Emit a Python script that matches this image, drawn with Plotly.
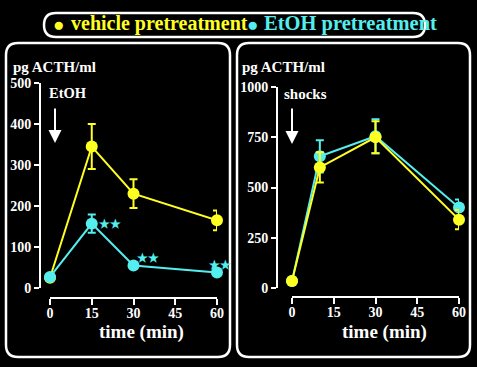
import plotly.graph_objects as go

W, H = 477, 367
YEL = "#FFFF22"
CYA = "#55EEEE"
FONT = "Liberation Serif"

# ---------------- data ----------------
left_time = [0, 15, 30, 60]
left_vehicle = [25, 345, 230, 165]
left_vehicle_err = [0, 55, 35, 24]
left_etoh = [27, 157, 55, 38]
left_etoh_err = [0, 22, 0, 0]

right_time = [0, 10, 30, 60]
right_vehicle = [35, 600, 750, 340]
right_vehicle_err = [0, 75, 80, 48]
right_etoh = [35, 655, 755, 400]
right_etoh_err = [0, 80, 85, 40]

x_ticks = [0, 15, 30, 45, 60]
left_y_ticks = [0, 100, 200, 300, 400, 500]
right_y_ticks = [0, 250, 500, 750, 1000]

series_names = ["vehicle pretreatment", "EtOH pretreatment"]


def X(px):
    return px / W


def Y(py):
    return 1 - py / H


def trace(x, y, err, color, xa, ya, name):
    return go.Scatter(
        x=x, y=y, mode="lines+markers", name=name,
        line=dict(color=color, width=2),
        marker=dict(color=color, size=12, symbol="circle"),
        error_y=dict(type="data", array=err, color=color, thickness=2, width=4, visible=True),
        xaxis=xa, yaxis=ya, cliponaxis=False, showlegend=False,
    )


fig = go.Figure()
fig.add_trace(trace(left_time, left_vehicle, left_vehicle_err, YEL, "x", "y", series_names[0]))
fig.add_trace(trace(left_time, left_etoh, left_etoh_err, CYA, "x", "y", series_names[1]))
fig.add_trace(trace(right_time, right_etoh, right_etoh_err, CYA, "x2", "y2", series_names[1]))
fig.add_trace(trace(right_time, right_vehicle, right_vehicle_err, YEL, "x2", "y2", series_names[0]))

tickfont = dict(family=FONT, size=14, color="white", weight="bold")
common_x = dict(range=[0, 60], tickvals=x_ticks, ticks="outside", ticklen=6, tickwidth=2,
                tickcolor="white", showline=True, linecolor="white", linewidth=2,
                showgrid=False, zeroline=False, tickfont=tickfont, anchor="free",
                automargin=False, fixedrange=True, ticklabelstandoff=-4)
common_y = dict(ticks="outside", ticklen=5, tickwidth=2, tickcolor="white", showline=True,
                linecolor="white", linewidth=2, showgrid=False, zeroline=False,
                tickfont=tickfont, anchor="free", automargin=False, fixedrange=True)


def rrect(x0, y0, x1, y1, r):
    s = f"M {X(x0 + r)},{Y(y0)} L {X(x1 - r)},{Y(y0)} Q {X(x1)},{Y(y0)} {X(x1)},{Y(y0 + r)} "
    s += f"L {X(x1)},{Y(y1 - r)} Q {X(x1)},{Y(y1)} {X(x1 - r)},{Y(y1)} "
    s += f"L {X(x0 + r)},{Y(y1)} Q {X(x0)},{Y(y1)} {X(x0)},{Y(y1 - r)} "
    s += f"L {X(x0)},{Y(y0 + r)} Q {X(x0)},{Y(y0)} {X(x0 + r)},{Y(y0)} Z"
    return dict(type="path", path=s, xref="paper", yref="paper",
                line=dict(color="white", width=2.5), layer="below")


shapes = [
    rrect(6, 43, 230, 357, 12),
    rrect(237, 43, 470, 357, 12),
    rrect(44, 13, 425, 37, 12),
]

ann = []


def txt(px, py, text, size=13, color="white", xanchor="left", bold=True):
    ann.append(dict(x=X(px), y=Y(py), xref="paper", yref="paper", text=text, showarrow=False,
                    xanchor=xanchor, yanchor="middle",
                    font=dict(family=FONT, size=size, color=color, weight="bold" if bold else "normal")))


def arrow(px, py0, py1):
    ann.append(dict(x=X(px), y=Y(py1), xref="paper", yref="paper", text="", showarrow=True,
                    ax=0, ay=-(py1 - py0), arrowhead=2, arrowsize=1.3, arrowwidth=2,
                    arrowcolor="white"))


# legend
ann.append(dict(x=X(58), y=Y(24), xref="paper", yref="paper", text="●", showarrow=False,
                font=dict(size=19, color=YEL), xanchor="center", yanchor="middle"))
txt(69, 24, series_names[0], size=20, color=YEL)
ann.append(dict(x=X(252), y=Y(24), xref="paper", yref="paper", text="●", showarrow=False,
                font=dict(size=19, color=CYA), xanchor="center", yanchor="middle"))
txt(262, 24, series_names[1], size=20.5, color=CYA)

# left panel texts
txt(11, 67, "pg ACTH/ml", size=15)
txt(47, 93, "EtOH", size=14.5)
arrow(55, 107, 143)
txt(141, 332, "time (min)", size=19, xanchor="center")
txt(97, 224, "★★", size=12, color=CYA)
txt(135, 258, "★★", size=12, color=CYA)
txt(207, 265, "★★", size=12, color=CYA)

# right panel texts
txt(240, 67, "pg ACTH/ml", size=15)
txt(282, 94, "shocks", size=15)
arrow(292, 107, 144)
txt(384, 332, "time (min)", size=19, xanchor="center")

fig.update_layout(
    width=W, height=H, margin=dict(l=0, r=0, t=0, b=0, pad=0, autoexpand=False),
    paper_bgcolor="black", plot_bgcolor="black",
    showlegend=False, shapes=shapes, annotations=ann,
    xaxis=dict(domain=[X(50), X(217)], position=Y(298), **common_x),
    yaxis=dict(domain=[Y(288), Y(83)], range=[0, 500], tickvals=left_y_ticks, position=X(40), **common_y),
    xaxis2=dict(domain=[X(292), X(459)], position=Y(297), **common_x),
    yaxis2=dict(domain=[Y(288), Y(87)], range=[0, 1000], tickvals=right_y_ticks, position=X(277), **common_y),
)

post = (
    "document.documentElement.style.margin='0';"
    "document.body.style.margin='0';"
    "document.body.style.background='black';"
    "document.documentElement.style.overflow='hidden';"
    "var d=document.getElementById('{plot_id}');"
    "d.style.position='fixed';d.style.top='0px';d.style.left='0px';"
)
fig.write_html("out.html", post_script=post, config={"displayModeBar": False})
